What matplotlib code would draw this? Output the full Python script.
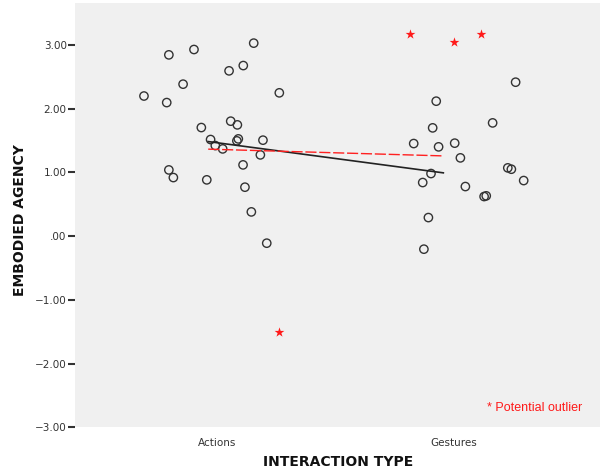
import matplotlib
matplotlib.use("Agg")
import matplotlib.pyplot as plt
from matplotlib.ticker import FuncFormatter

categories = ["Actions", "Gestures"]
cat_pos = [1, 2]

# jittered x positions (category index + jitter) and y values
actions_x = [0.692, 0.797, 0.903, 0.857, 0.788, 1.155, 1.051, 1.111, 1.263, 0.934,
             1.058, 1.086, 0.973, 1.090, 1.084, 1.194, 0.993, 1.024, 1.183, 0.797,
             0.816, 0.957, 1.110, 1.118, 1.145, 1.210]
actions_y = [2.20, 2.846, 2.93, 2.386, 2.097, 3.03, 2.595, 2.678, 2.25, 1.705,
             1.805, 1.747, 1.517, 1.527, 1.496, 1.507, 1.422, 1.37, 1.276, 1.04,
             0.92, 0.884, 1.119, 0.769, 0.381, -0.11]

gestures_x = [2.260, 1.925, 1.910, 2.163, 1.830, 1.935, 2.003, 2.027, 1.903, 1.868,
              2.048, 2.227, 2.242, 2.294, 2.127, 2.136, 1.892, 1.873]
gestures_y = [2.417, 2.119, 1.70, 1.778, 1.454, 1.402, 1.460, 1.229, 0.983, 0.842,
              0.779, 1.072, 1.051, 0.873, 0.622, 0.633, 0.292, -0.204]

outlier_x = [1.263, 1.814, 1.999, 2.114]
outlier_y = [-1.51, 3.17, 3.04, 3.176]

fit_x = [0.963, 1.955]
fit_black_y = [1.485, 0.994]
fit_red_y = [1.366, 1.26]

yticks = [-3, -2, -1, 0, 1, 2, 3]

fig = plt.figure(figsize=(6.0, 4.74), dpi=100)
ax = fig.add_axes([75/600, 1-427.3/474, 525/600, (427.3-3)/474])
ax.set_facecolor("#f0f0f0")

ax.scatter(actions_x + gestures_x, actions_y + gestures_y, s=36, facecolors="none",
           edgecolors="#333333", linewidths=1.0, zorder=3)
ax.scatter(outlier_x, outlier_y, marker="*", s=55, color="#ff1a1a", linewidths=0, zorder=3)

ax.plot(fit_x, fit_black_y, color="#222222", lw=1.2, zorder=4)
ax.plot(fit_x, fit_red_y, color="#ff2020", lw=1.0, dashes=(8, 2), zorder=4)

ax.set_xlim(0.401, 2.616)
ax.set_ylim(-3.0, 3.66)
ax.set_xticks(cat_pos)
ax.set_xticklabels(categories, fontsize=7.5, color="#333333")
ax.set_yticks(yticks)

def fmt(v, pos):
    s = "%.2f" % v
    if s == "0.00":
        return ".00"
    return s.replace("-", "\u2212")

ax.yaxis.set_major_formatter(FuncFormatter(fmt))
ax.tick_params(axis="y", labelsize=7.5, labelcolor="#333333", length=5, width=1.5,
               color="#333333", direction="out", pad=1)
ax.tick_params(axis="x", length=0, pad=8)
for sp in ax.spines.values():
    sp.set_visible(False)

fig.text(20/600, 1-220/474, "EMBODIED AGENCY", rotation=90, ha="center", va="center",
         fontsize=10, fontweight="bold", color="#111111")
fig.text(338/600, 1-462/474, "INTERACTION TYPE", ha="center", va="center",
         fontsize=10, fontweight="bold", color="#111111")
fig.text(487/600, 1-408.3/474, "* Potential outlier", ha="left", va="center",
         fontsize=9, color="#ff1a1a", family="Liberation Sans")

fig.savefig("out.png", dpi=100)
